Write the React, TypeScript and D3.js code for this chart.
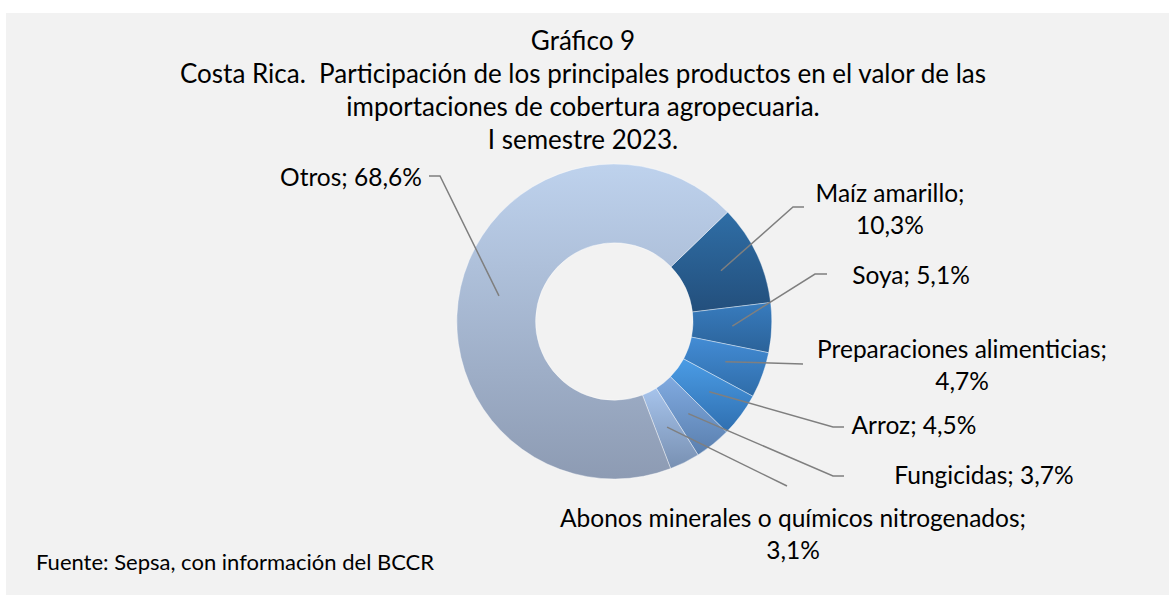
import * as React from 'react';
import * as d3 from 'd3';

// Chart data
const categories = [
  'Maíz amarillo',
  'Soya',
  'Preparaciones alimenticias',
  'Arroz',
  'Fungicidas',
  'Abonos minerales o químicos nitrogenados',
  'Otros',
];
const shares = [10.3, 5.1, 4.7, 4.5, 3.7, 3.1, 68.6];
const titleLines = [
  'Gráfico 9',
  'Costa Rica.  Participación de los principales productos en el valor de las',
  'importaciones de cobertura agropecuaria.',
  'I semestre 2023.',
];
const sourceNote = 'Fuente: Sepsa, con información del BCCR';

// Slice fills, top -> bottom of each slice
const sliceColors: [string, string][] = [
  ['#2f6ea6', '#234f7c'],
  ['#387cbe', '#2b6299'],
  ['#438cd5', '#2f6ca8'],
  ['#4b9ce5', '#2f6fb0'],
  ['#80aae0', '#5a7fae'],
  ['#a6c3eb', '#7890b2'],
  ['#bed2ed', '#8d9bb3'],
];

// Manual label placement (like the Excel chart)
interface LabelPos {
  cx: number;
  base: number;
  wrap: boolean;
  path: [number, number][];
}
const labelLayout: LabelPos[] = [
  { cx: 890, base: 202, wrap: true, path: [[793, 207], [804, 207]] },
  { cx: 911, base: 284, wrap: false, path: [[815, 274], [827, 274]] },
  { cx: 962, base: 358, wrap: true, path: [[803, 364]] },
  { cx: 914, base: 434, wrap: false, path: [[833, 427], [844, 427]] },
  { cx: 984, base: 484, wrap: false, path: [[833, 476], [844, 476]] },
  { cx: 793, base: 527, wrap: true, path: [[787, 486]] },
  { cx: 351, base: 186, wrap: false, path: [[440, 176], [429, 176]] },
];

const width = 1169;
const height = 595;
const cx = 614.3;
const cy = 321.5;
const outerR = 157.5;
const innerR = 78.75;
const startDeg = 46;
const font = 'Lato, "Open Sans", sans-serif';

const fmt = (v: number) => d3.format('.1f')(v).replace('.', ',') + '%';

export default function App() {
  const pie = d3
    .pie<number>()
    .sort(null)
    .value((d) => d)
    .startAngle((startDeg * Math.PI) / 180)
    .endAngle((startDeg * Math.PI) / 180 + 2 * Math.PI);
  const arcs = pie(shares);
  const arc = d3.arc<d3.PieArcDatum<number>>().innerRadius(innerR).outerRadius(outerR);
  const line = d3.line();

  return (
    <div style={{ position: 'absolute', left: 0, top: 0 }}>
      <svg width={width} height={height} style={{ display: 'block' }}>
        <defs>
          {sliceColors.map(([top, bottom], i) => (
            <linearGradient key={i} id={`slice-${i}`} x1="0" y1="0" x2="0" y2="1">
              <stop offset="0" stopColor={top} />
              <stop offset="1" stopColor={bottom} />
            </linearGradient>
          ))}
        </defs>
        <rect x={0} y={0} width={width} height={height} fill="#ffffff" />
        <rect x={6} y={13} width={width - 6} height={height - 13} fill="#f2f2f2" />

        {/* Title */}
        <g fontFamily={font} fontSize={26} fill="#000" textAnchor="middle">
          {titleLines.map((t, i) => (
            <text key={i} x={583} y={50 + i * 33} style={{ whiteSpace: 'pre' }}>
              {t}
            </text>
          ))}
        </g>

        {/* Donut */}
        <g transform={`translate(${cx},${cy})`}>
          {arcs.map((a, i) => (
            <path
              key={i}
              d={arc(a) || ''}
              fill={`url(#slice-${i})`}
              stroke="#ffffff"
              strokeOpacity={0.5}
              strokeWidth={0.8}
            />
          ))}
        </g>

        {/* Leader lines */}
        {arcs.map((a, i) => {
          const [x, y] = arc.centroid(a);
          const pts: [number, number][] = [[cx + x, cy + y], ...labelLayout[i].path];
          return (
            <path key={i} d={line(pts) || ''} fill="none" stroke="#7f7f7f" strokeWidth={1.5} />
          );
        })}

        {/* Labels */}
        <g fontFamily={font} fontSize={24.5} fill="#000" textAnchor="middle">
          {categories.map((c, i) => {
            const pos = labelLayout[i];
            const value = fmt(shares[i]);
            const lines = pos.wrap ? [`${c};`, value] : [`${c}; ${value}`];
            return (
              <text key={i} x={pos.cx} y={pos.base}>
                {lines.map((l, j) => (
                  <tspan key={j} x={pos.cx} dy={j === 0 ? 0 : 31.5}>
                    {l}
                  </tspan>
                ))}
              </text>
            );
          })}
        </g>

        {/* Source */}
        <text x={36} y={570} fontFamily={font} fontSize={22} fill="#000">
          {sourceNote}
        </text>
      </svg>
    </div>
  );
}
